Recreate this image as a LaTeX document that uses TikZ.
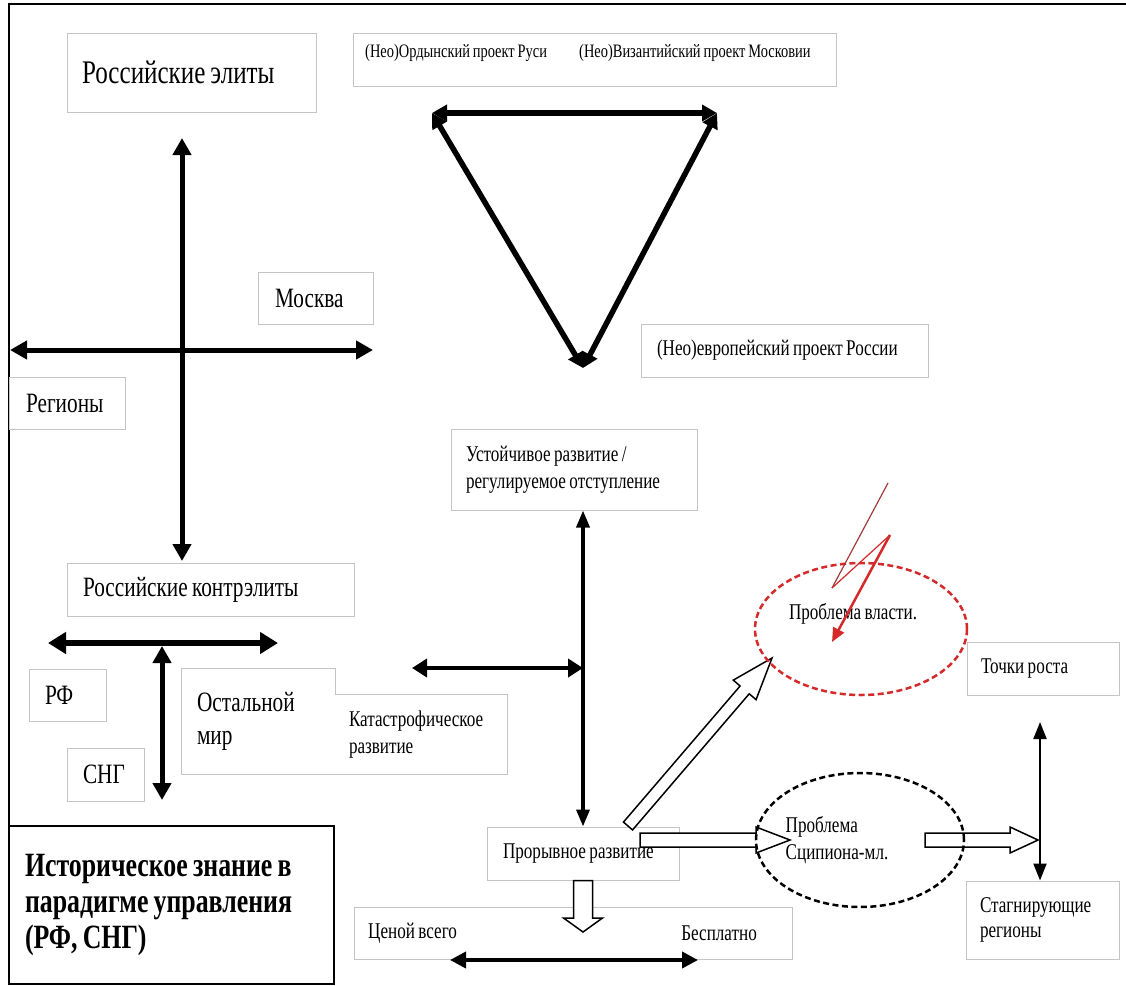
\documentclass[tikz,border=0pt]{standalone}
\usepackage{fontspec}
\setmainfont{Liberation Serif}[FakeStretch=0.76,WordSpace=0.8]
\usetikzlibrary{arrows.meta,calc,shapes.geometric}
\definecolor{boxgray}{HTML}{C4C4C4}
\definecolor{alarm}{HTML}{D42A2A}
\definecolor{darkalarm}{HTML}{A33A3A}
\def\blockarrow(#1)(#2)(#3:#4:#5){\coordinate (ba) at ($(#2)!#5!(#1)$); \draw[hollow] ($(#1)!#3!90:(#2)$) -- ($(ba)!#3!90:(#2)$) -- ($(ba)!#4!90:(#2)$) -- (#2) -- ($(ba)!#4!-90:(#2)$) -- ($(ba)!#3!-90:(#2)$) -- ($(#1)!#3!-90:(#2)$) -- cycle;}

\begin{document}
\begin{tikzpicture}[x=1pt, y=-1pt,
	box/.style={draw=boxgray, line width=1pt, fill=white, align=flush left, inner ysep=0pt},
	plain/.style={inner sep=0pt, align=flush left},
	big/.style={font=\fontsize{28}{33}\selectfont},
	mid/.style={font=\fontsize{22.5}{27.5}\selectfont},
	small/.style={font=\fontsize{19}{23}\selectfont},
	heavy/.style={line width=5pt, arrows={Triangle[width=18pt,length=17pt]-Triangle[width=18pt,length=17pt]}},
	medium/.style={line width=3.8pt, arrows={Triangle[width=16pt,length=16pt]-Triangle[width=16pt,length=16pt]}},
	slim/.style={line width=2pt, arrows={Triangle[width=13pt,length=17pt]-Triangle[width=13pt,length=17pt]}},
	hollow/.style={draw=black, fill=white, line width=1.5pt},
	problem/.style={ellipse, line width=2.5pt, dash pattern=on 6pt off 3.5pt}]
			%%%%% START %%%%%
			
			\fill[white] (0,0) rectangle (1126,985);
			\useasboundingbox (0,0) rectangle (1126,985);
			\draw[line width=2pt] (9,985) -- (9,4) -- (1126,4);
			
			% elites cross
			\node[box, font=\fontsize{33}{38}\selectfont, text width=219pt, minimum height=79pt, inner xsep=15pt] (elite) at (191.5,72.5) {Российские элиты};
			\node[box, big, text width=81pt, minimum height=52pt, inner xsep=17pt] (moskva) at (315.5,298) {Москва};
			\node[box, big, text width=82pt, minimum height=52pt, inner xsep=17pt] (regiony) at (67,403) {Регионы};
			\node[box, big, text width=255pt, minimum height=53pt, inner xsep=16pt] (kontr) at (210.5,589.5) {Российские контрэлиты};
			\node[box, big, text width=45pt, minimum height=52pt, inner xsep=16pt] (rf) at (67.5,695) {РФ};
			\node[box, big, text width=45pt, minimum height=53pt, inner xsep=16pt] (sng) at (105.5,774.5) {СНГ};
			
			\node[plain, big, text width=123pt, minimum height=104pt, inner xsep=15pt] (mir) at (258.5,721) {Остальной\\мир};
			\node[plain, mid, text width=144pt, minimum height=79pt, inner xsep=14pt] (katas) at (421,734.5) {Катастрофическое\\развитие};
			\draw[boxgray, line width=1pt] (mir.north west) -- (mir.north east) -- (mir.north east |- katas.north) -- (katas.north east) -- (katas.south east) -- (katas.south east -| mir.west) -- cycle;
			
			\coordinate (eliteN) at (182,138);
			\coordinate (eliteS) at (182,561);
			\coordinate (regW) at (10,350);
			\coordinate (moskE) at (373,350);
			\draw[heavy] (eliteN) -- (eliteS);
			\draw[heavy] (regW) -- (moskE);
			
			\coordinate (rfW) at (48,643);
			\coordinate (mirE) at (278,643);
			\coordinate (tTop) at (162,646);
			\coordinate (tBot) at (162,800);
			\draw[heavy, line width=5.5pt, arrows={Triangle[width=21pt,length=18pt]-Triangle[width=21pt,length=18pt]}] (rfW) -- (mirE);
			\draw[heavy] (tTop) -- (tBot);
			
			% triangle of projects
			\node[box, minimum width=483pt, minimum height=53pt] (proj) at (594.5,59.5) {};
			\node[plain, small, anchor=west] (orda) at (365,53) {(Нео)Ордынский проект Руси};
			\node[plain, small, anchor=west] (byz) at (579,53) {(Нео)Византийский проект Московии};
			\node[box, mid, text width=255pt, minimum height=53pt, inner xsep=16pt] (evro) at (784.5,350.5) {(Нео)европейский проект России};
			
			\coordinate (tL) at (432,113);
			\coordinate (tR) at (717,113);
			\coordinate (tB) at (583,368);
			\draw[heavy, line width=5.5pt, arrows={Triangle[width=16pt,length=15pt]-Triangle[width=16pt,length=15pt]}] (tL) -- (tR);
			\draw[heavy, line width=5.5pt, arrows={Triangle[width=16pt,length=15pt]-Triangle[width=16pt,length=15pt]}] (tL) -- (tB);
			\draw[heavy, line width=5.5pt, arrows={Triangle[width=16pt,length=15pt]-Triangle[width=16pt,length=15pt]}] (tR) -- (tB);
			
			% development paths
			\node[box, mid, text width=216pt, minimum height=81pt, inner xsep=15pt] (ustoich) at (574,469.5) {Устойчивое развитие /\\регулируемое отступление};
			\node[box, mid, text width=160pt, minimum height=53pt, inner xsep=16pt] (proryv) at (583,853.5) {Прорывное развитие};
			\node[box, minimum width=438pt, minimum height=52pt] (cena) at (573,933) {};
			\node[plain, mid, anchor=west] (cenaT) at (368,933) {Ценой всего};
			\node[plain, mid, anchor=east] (free) at (757,933) {Бесплатно};
			\node[box, mid, text width=124pt, minimum height=53pt, inner xsep=14pt] (tochki) at (1043,668.5) {Точки роста};
			\node[box, mid, font=\fontsize{22.5}{25}\selectfont, text width=125pt, minimum height=78pt, inner xsep=14pt] (stagn) at (1042.5,920) {Стагнирующие\\регионы};
			
			\draw[medium, line width=3.5pt, arrows={Triangle[width=13pt,length=17pt]-Triangle[width=13pt,length=17pt]}] (proryv.north |- ustoich.south) -- (proryv.north);
			\coordinate (katN) at (412,668);
			\coordinate (katE) at (583,668);
			\draw[medium, arrows={Triangle[width=18pt,length=15pt]-Triangle[width=18pt,length=15pt]}] (katN) -- (katE);
			\coordinate (cenaW) at (450,960);
			\coordinate (freeE) at (698,960);
			\draw[medium] (cenaW) -- (freeE);
			\coordinate (growN) at (1040,722);
			\draw[slim] (growN) -- (growN |- stagn.north);
			
			\coordinate (g1) at (628,826);
			\coordinate (g2) at (772,658);
			\blockarrow(g1)(g2)(6pt:15pt:42pt);
			\coordinate (h1) at (640,840);
			\coordinate (h2) at (790,840);
			\blockarrow(h1)(h2)(7pt:13pt:34pt);
			\coordinate (i1) at (925,840);
			\coordinate (i2) at (1038,840);
			\blockarrow(i1)(i2)(7pt:13pt:28pt);
			\coordinate (k2) at (583,932);
			\blockarrow(proryv.south)(k2)(9.5pt:19.5pt:14pt);
			
			% problems
			\node[problem, draw=alarm, minimum width=212pt, minimum height=132pt] (vlast) at (861,629) {};
			\node[plain, mid] (vlastT) at (853,614) {Проблема власти.};
			\node[problem, draw=black, minimum width=208pt, minimum height=134pt] (scip) at (860,840) {};
			\node[plain, mid] (scipT) at (837,840) {Проблема\\Сципиона-мл.};
			
			\coordinate (z1) at (888,483);
			\coordinate (z2) at (832,588);
			\coordinate (z3) at (890,535);
			\coordinate (z4) at (832,642);
			\draw[darkalarm, line width=1.2pt] (z1) -- (z2);
			\draw[alarm, line width=1.2pt] (z2) -- (z3);
			\draw[alarm, line width=2.5pt, -{Triangle[width=12pt,length=14pt]}] (z3) -- (z4);
			
			% title
			\node[draw=black, line width=2pt, fill=white, align=flush left, text width=293pt, minimum height=158pt, inner xsep=16pt, font=\fontsize{34}{36}\selectfont\bfseries] (title) at (171.5,905) {Историческое знание в\\парадигме управления\\(РФ, СНГ)};
			
			%%%%% END %%%%%
\end{tikzpicture}
\end{document}
